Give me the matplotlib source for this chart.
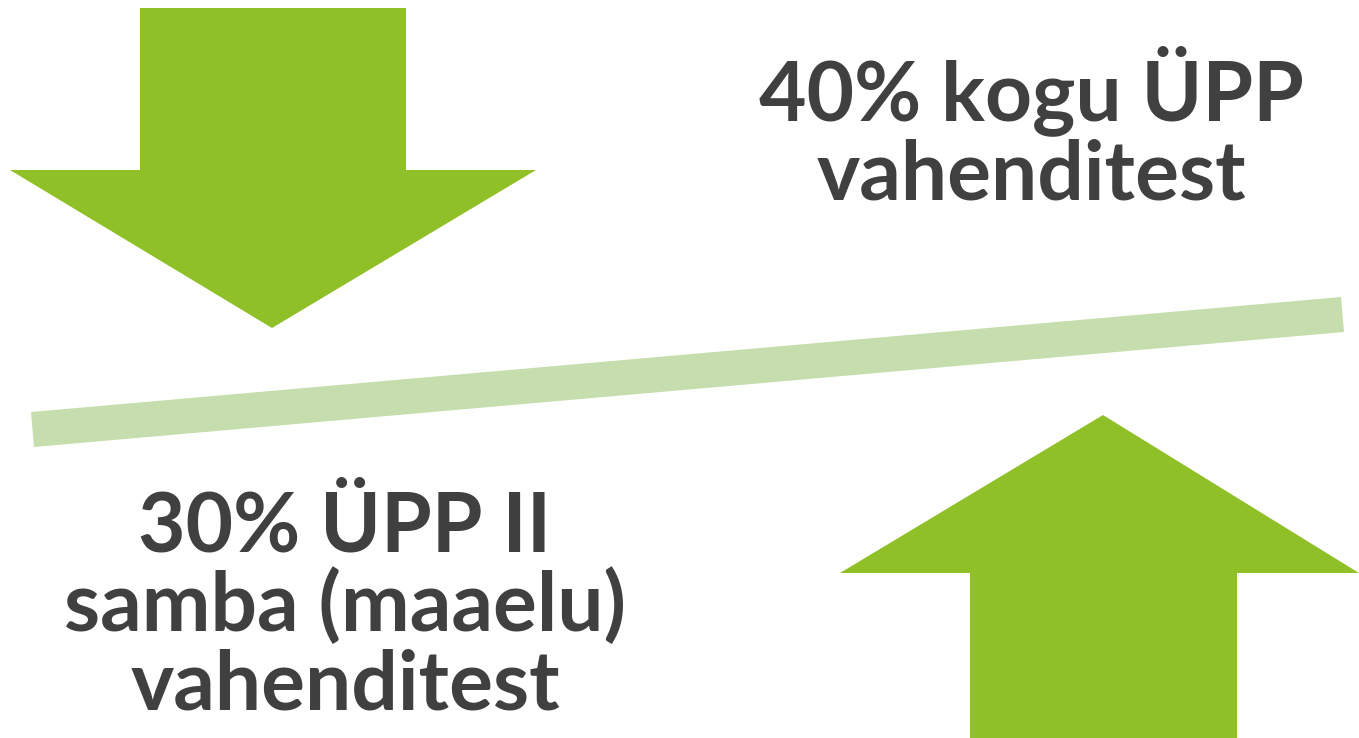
import matplotlib
matplotlib.use("Agg")
import matplotlib.pyplot as plt
from matplotlib.patches import Polygon

# data
shares = [40, 30]
labels_top = ["40% kogu ÜPP", "vahenditest"]
labels_bottom = ["30% ÜPP II", "samba (maaelu)", "vahenditest"]

GREEN = "#8fc027"
BAR = "#c6deae"
TEXT = "#404040"

W, H = 1359, 738
fig = plt.figure(figsize=(W / 100, H / 100), dpi=100)
ax = fig.add_axes([0, 0, 1, 1])
ax.set_xlim(0, W)
ax.set_ylim(H, 0)
ax.axis("off")

# down arrow
down = [(140, 8), (406, 8), (406, 170), (536, 170), (272, 328), (10, 170), (140, 170)]
ax.add_patch(Polygon(down, closed=True, facecolor=GREEN, edgecolor="none"))
# up arrow
up = [(1103, 415), (1359, 573), (1237, 573), (1237, 738), (970, 738), (970, 573), (840, 573)]
ax.add_patch(Polygon(up, closed=True, facecolor=GREEN, edgecolor="none"))
# bar
bar = [(31, 412), (1341, 297), (1344, 332), (34, 447)]
ax.add_patch(Polygon(bar, closed=True, facecolor=BAR, edgecolor="none"))

fs = 59
font = "Lato"
for txt, yb in zip(labels_top, [120, 200]):
    ax.text(1031, yb, txt, ha="center", va="baseline", fontsize=fs,
            fontweight="bold", family=font, color=TEXT)
for txt, yb in zip(labels_bottom, [552, 631, 710]):
    ax.text(345, yb, txt, ha="center", va="baseline", fontsize=fs,
            fontweight="bold", family=font, color=TEXT)

fig.savefig("out.png", dpi=100)
